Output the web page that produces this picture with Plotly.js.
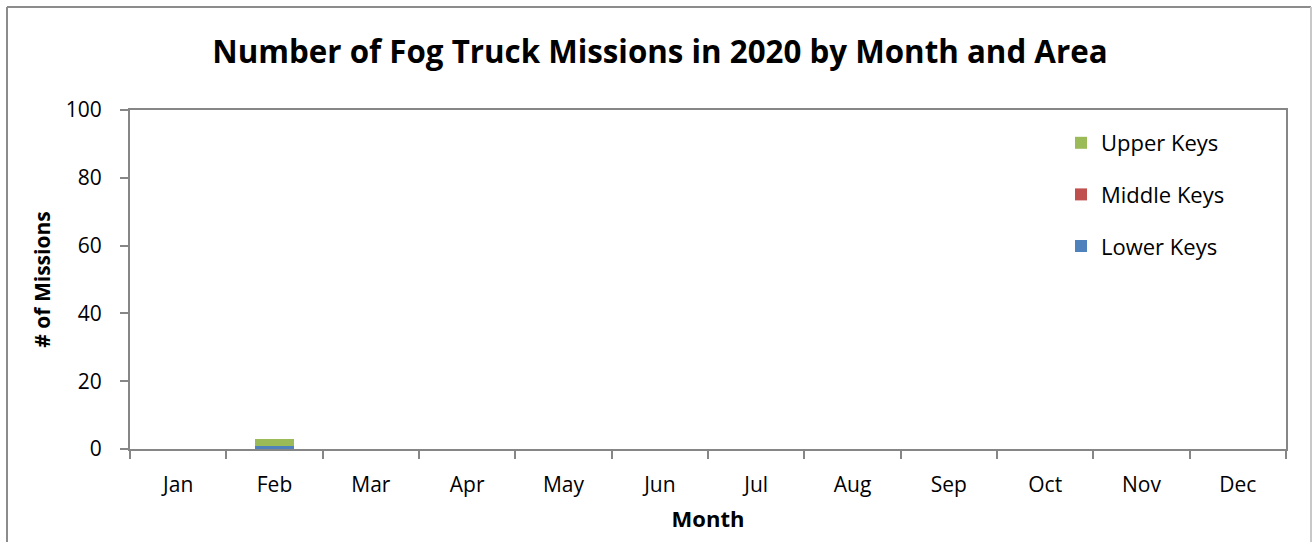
<!DOCTYPE html>
<html>
<head>
<meta charset="utf-8">
<script src="https://cdn.plot.ly/plotly-3.0.1.min.js"></script>
<style>html,body{margin:0;padding:0;background:#fff;}#chart{width:1312px;height:542px;}</style>
</head>
<body>
<div id="chart"></div>
<script>
const months = ["Jan","Feb","Mar","Apr","May","Jun","Jul","Aug","Sep","Oct","Nov","Dec"];
const lowerKeys = [0,1,0,0,0,0,0,0,0,0,0,0];
const middleKeys = [0,0,0,0,0,0,0,0,0,0,0,0];
const upperKeys = [0,2,0,0,0,0,0,0,0,0,0,0];

const FONT = "Open Sans, Liberation Sans, sans-serif";
const traces = [
  {type:"bar", name:"Lower Keys", x:months, y:lowerKeys, marker:{color:"#4f81bd"}, legendgroup:"a", legendrank:3},
  {type:"bar", name:"Middle Keys", x:months, y:middleKeys, marker:{color:"#c0504d"}, legendgroup:"b", legendrank:2},
  {type:"bar", name:"Upper Keys", x:months, y:upperKeys, marker:{color:"#9bbb59"}, legendgroup:"c", legendrank:1}
];
const W = 1156, H = 339;
function px(x){return (x-130)/W;}
function py(y){return (449-y)/H;}
const layout = {
  width:1312, height:542,
  margin:{l:130, r:26, t:110, b:93},
  paper_bgcolor:"#fff", plot_bgcolor:"#fff",
  barmode:"stack", bargap:0.6,
  font:{family:FONT, color:"#000"},
  title:{text:"<b>Number of Fog Truck Missions in 2020 by Month and Area</b>", font:{size:31.3, family:FONT, color:"#000"}, x:0.503, xanchor:"center", y:0.904, yanchor:"middle"},
  xaxis:{type:"category", tickson:"boundaries", ticks:"outside", ticklen:8, tickwidth:2, tickcolor:"#868686",
    showline:true, linecolor:"#868686", linewidth:2, mirror:true, showgrid:false, ticklabelstandoff:16,
    tickfont:{size:21, family:FONT, color:"#000"}, title:{text:"<b>Month</b>", font:{size:22, family:FONT}, standoff:14}},
  yaxis:{range:[0,100], dtick:20, ticks:"outside", ticklen:8, tickwidth:2, tickcolor:"#868686",
    showline:true, linecolor:"#868686", linewidth:2, mirror:true, showgrid:false, zeroline:false, ticklabelstandoff:14,
    tickfont:{size:21, family:FONT, color:"#000"}, title:{text:"<b># of Missions</b>", font:{size:21, family:FONT}, standoff:9}},
  legend:{x:px(1061), y:py(122), xanchor:"left", yanchor:"top", traceorder:"grouped", tracegroupgap:20,
    font:{size:22, family:FONT}, bgcolor:"rgba(0,0,0,0)", itemwidth:30},
  shapes:[
    {type:"line", xref:"paper", yref:"paper", x0:px(7), x1:px(7), y0:py(7), y1:py(560), line:{color:"#8c8c8c", width:2}},
    {type:"line", xref:"paper", yref:"paper", x0:px(7), x1:px(1311), y0:py(7), y1:py(7), line:{color:"#8c8c8c", width:2}},
    {type:"line", xref:"paper", yref:"paper", x0:px(1311), x1:px(1311), y0:py(7), y1:py(560), line:{color:"#c8c8c8", width:2}}
  ]
};
Plotly.newPlot("chart", traces, layout, {displayModeBar:false, staticPlot:true});
</script>
</body>
</html>
